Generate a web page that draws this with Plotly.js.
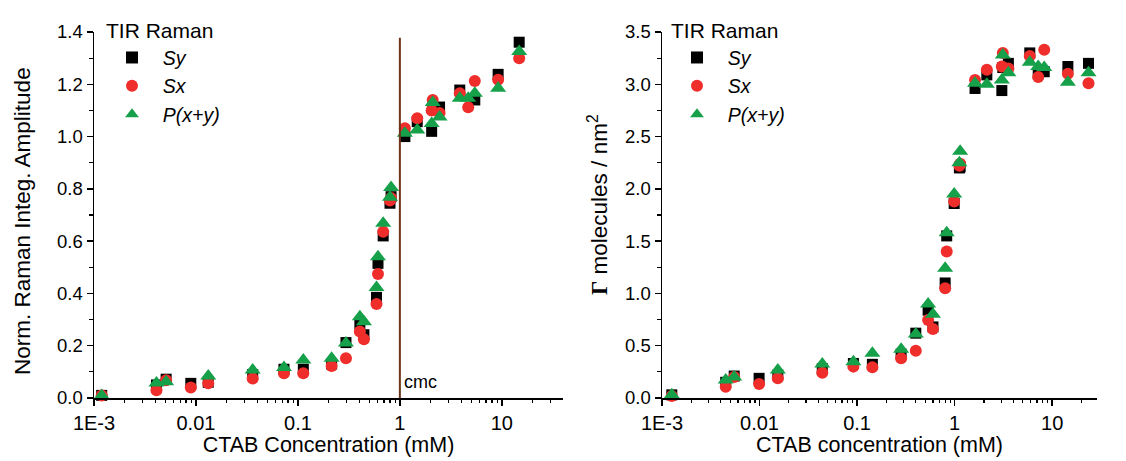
<!DOCTYPE html>
<html>
<head>
<meta charset="utf-8">
<script src="https://cdn.plot.ly/plotly-3.0.1.min.js"></script>
<style>html,body{margin:0;padding:0;background:#fff;}#chart{width:1126px;height:461px;}</style>
</head>
<body>
<div id="chart"></div>
<script>
// ---- Left panel: Norm. Raman Integ. Amplitude vs CTAB concentration (mM)
const concL = [0.00119, 0.0041, 0.0051, 0.0089, 0.0132, 0.036, 0.073, 0.113, 0.214, 0.296, 0.405, 0.444, 0.59, 0.61, 0.686, 0.80, 0.82, 1.12, 1.48, 2.05, 2.1, 2.45, 3.87, 4.68, 5.43, 9.2, 14.8];
const syL  = [0.01, 0.05, 0.072, 0.056, 0.06, 0.09, 0.11, 0.11, 0.13, 0.212, 0.284, 0.242, 0.385, 0.515, 0.62, 0.745, 0.77, 1.0, 1.057, 1.02, 1.11, 1.113, 1.178, null, 1.14, 1.238, 1.361];
const sxL  = [0.01, 0.03, 0.068, 0.04, 0.056, 0.075, 0.095, 0.095, 0.122, 0.152, 0.254, 0.225, 0.36, 0.474, 0.636, 0.755, 0.765, 1.032, 1.07, 1.10, 1.14, 1.09, 1.166, 1.112, 1.213, 1.217, 1.30];
const pL   = [0.01, 0.057, 0.062, null, 0.084, 0.107, 0.117, 0.145, 0.152, 0.21, 0.311, 0.292, 0.423, 0.54, 0.668, 0.768, 0.805, 1.013, 1.025, 1.05, 1.13, 1.075, 1.147, 1.147, 1.166, 1.185, 1.325];

// ---- Right panel: surface excess (molecules / nm^2)
const concR = [0.00126, 0.0045, 0.0055, 0.0099, 0.0154, 0.044, 0.0917, 0.1435, 0.283, 0.40, 0.535, 0.60, 0.80, 0.83, 0.99, 1.12, 1.14, 1.62, 2.14, 3.05, 3.12, 3.56, 5.9, 7.2, 8.3, 14.5, 23.6];
const syR  = [0.03, 0.15, 0.21, 0.188, 0.22, 0.28, 0.33, 0.322, 0.42, 0.62, 0.84, 0.68, 1.10, 1.55, 1.86, 2.20, 2.21, 2.96, 3.09, 2.94, 3.16, 3.20, 3.30, 3.10, 3.12, 3.17, 3.20];
const sxR  = [0.02, 0.108, 0.20, 0.134, 0.188, 0.242, 0.30, 0.293, 0.38, 0.452, 0.745, 0.66, 1.05, 1.40, 1.88, 2.22, 2.24, 3.04, 3.14, 3.17, 3.30, 3.15, 3.27, 3.07, 3.33, 3.10, 3.01];
const pR   = [0.03, 0.172, 0.20, null, 0.268, 0.325, 0.347, 0.427, 0.465, 0.612, 0.90, 0.80, 1.24, 1.58, 1.95, 2.25, 2.36, 3.01, 3.00, 3.04, 3.28, 3.11, 3.21, 3.17, 3.16, 3.02, 3.11];

const seriesNames = ['Sy', 'Sx', 'P(x+y)'];
const legendTitle = 'TIR Raman';
const xTickVals = [0.001, 0.01, 0.1, 1, 10];
const xTickText = ['1E-3', '0.01', '0.1', '1', '10'];
const cmcValue = 1;
const yTitleL = 'Norm. Raman Integ. Amplitude';
const yTitleR = '<span style="font-family:Liberation Serif;font-weight:bold">Γ</span> molecules / nm<sup>2</sup>';

const FONT = 'Liberation Sans, Arial, sans-serif';
const styles = [
  {symbol: 'square', color: '#000000', size: 11},
  {symbol: 'circle', color: '#ef2d2a', size: 12},
  {symbol: 'triangle-up', color: '#16a04a', size: 14}
];
const PAD = '\u00a0\u00a0';

function mk(x, y, i, xa, ya, leg) {
  return {
    x: x, y: y, type: 'scatter', mode: 'markers', name: PAD + '<i>' + seriesNames[i] + '</i>',
    xaxis: xa, yaxis: ya, legend: leg,
    marker: {symbol: styles[i].symbol, color: styles[i].color, size: styles[i].size, line: {width: 0}},
    cliponaxis: false
  };
}

const data = [
  mk(concL, syL, 0, 'x', 'y', 'legend'),
  mk(concL, sxL, 1, 'x', 'y', 'legend'),
  mk(concL, pL, 2, 'x', 'y', 'legend'),
  mk(concR, syR, 0, 'x2', 'y2', 'legend2'),
  mk(concR, sxR, 1, 'x2', 'y2', 'legend2'),
  mk(concR, pR, 2, 'x2', 'y2', 'legend2')
];

const W = 1126, H = 461;
const yDom = [(H - 398) / H, (H - 32) / H];

function xaxisCfg(dom, range, title) {
  return {
    domain: dom, type: 'log', range: range,
    showline: true, linecolor: '#000', linewidth: 1.5, mirror: false,
    showgrid: false, zeroline: false,
    ticks: 'outside', ticklen: 6, tickwidth: 1.5, tickcolor: '#000',
    tickmode: 'array', tickvals: xTickVals, ticktext: xTickText,
    tickfont: {family: FONT, size: 20, color: '#000'},
    minor: {ticks: 'outside', ticklen: 3.5, tickwidth: 1.2, tickcolor: '#000', dtick: 'D1', showgrid: false},
    title: {text: title, font: {family: FONT, size: 21.5, color: '#000'}, standoff: 4}
  };
}
function yaxisCfg(range, dtick, minorD) {
  return {
    domain: yDom, range: range, dtick: dtick, tick0: 0, tickformat: '.1f',
    showline: true, linecolor: '#000', linewidth: 1.5, mirror: false,
    showgrid: false, zeroline: false,
    ticks: 'outside', ticklen: 6, tickwidth: 1.5, tickcolor: '#000',
    tickfont: {family: FONT, size: 18.5, color: '#000'},
    minor: {ticks: 'outside', ticklen: 3.5, tickwidth: 1.2, tickcolor: '#000', dtick: minorD, showgrid: false}
  };
}
function legendCfg(xpx) {
  return {
    x: xpx / W, y: (H - 11) / H, xanchor: 'left', yanchor: 'top',
    bgcolor: 'rgba(0,0,0,0)', borderwidth: 0,
    title: {text: legendTitle, font: {family: FONT, size: 21, color: '#000'}},
    font: {family: FONT, size: 19.5, color: '#000'},
    indentation: 8, tracegroupgap: 0, itemsizing: 'constant'
  };
}

const layout = {
  width: W, height: H,
  margin: {l: 0, r: 0, t: 0, b: 0},
  paper_bgcolor: '#fff', plot_bgcolor: 'rgba(0,0,0,0)',
  font: {family: FONT, size: 19, color: '#000'},
  xaxis: Object.assign(xaxisCfg([94 / W, 563 / W], [-3, 1.6], 'CTAB Concentration (mM)'), {anchor: 'y'}),
  yaxis: Object.assign(yaxisCfg([0, 1.4], 0.2, 0.1), {anchor: 'x'}),
  xaxis2: Object.assign(xaxisCfg([662 / W, 1097 / W], [-3, 1.46], 'CTAB concentration (mM)'), {anchor: 'y2'}),
  yaxis2: Object.assign(yaxisCfg([0, 3.5], 0.5, 0.25), {anchor: 'x2'}),
  legend: legendCfg(104),
  legend2: legendCfg(669),
  shapes: [{
    type: 'line', xref: 'x', yref: 'y', x0: cmcValue, x1: cmcValue, y0: 0, y1: 1.378,
    line: {color: '#6e3518', width: 2}
  }],
  annotations: [
    {
      xref: 'x', yref: 'y', x: Math.log10(cmcValue), y: 0.06, text: 'cmc', showarrow: false,
      xanchor: 'left', yanchor: 'middle', xshift: 2,
      font: {family: FONT, size: 18, color: '#000'}
    },
    {
      xref: 'paper', yref: 'paper', x: 22 / W, y: (H - 221) / H, text: yTitleL, textangle: -90,
      showarrow: false, xanchor: 'center', yanchor: 'middle',
      font: {family: FONT, size: 22.5, color: '#000'}
    },
    {
      xref: 'paper', yref: 'paper', x: 598 / W, y: (H - 205) / H, text: yTitleR, textangle: -90,
      showarrow: false, xanchor: 'center', yanchor: 'middle',
      font: {family: FONT, size: 22.5, color: '#000'}
    }
  ]
};

Plotly.newPlot('chart', data, layout, {staticPlot: true, displayModeBar: false});
</script>
</body>
</html>
